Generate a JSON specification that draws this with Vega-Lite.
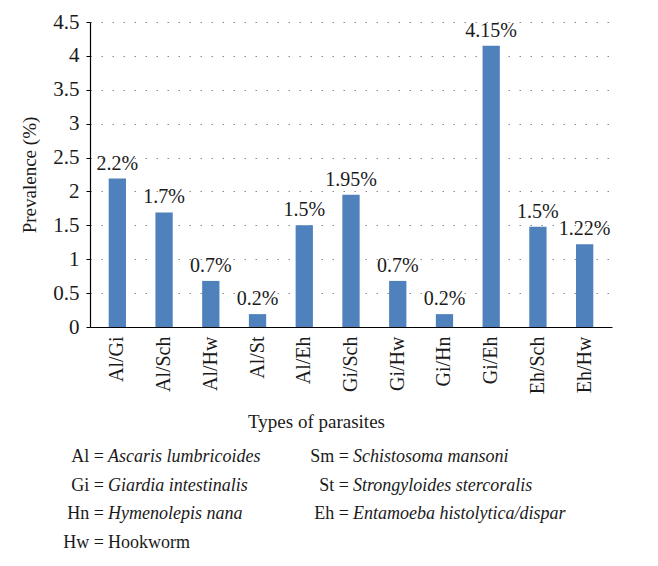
{
  "$schema": "https://vega.github.io/schema/vega-lite/v6.json",
  "width": 522,
  "height": 305,
  "padding": {"left": 20, "top": 11, "right": 5, "bottom": 5},
  "background": "white",
  "config": {
    "view": {"stroke": null},
    "font": "Liberation Serif",
    "text": {"font": "Liberation Serif"},
    "axis": {"labelFont": "Liberation Serif", "titleFont": "Liberation Serif", "labelColor": "#1a1a1a", "titleColor": "#1a1a1a", "titleFontWeight": "normal"}
  },
  "datasets": {
    "bars": [
      {"pair": "Al/Gi", "value": 2.19, "label": "2.2%"},
      {"pair": "Al/Sch", "value": 1.69, "label": "1.7%"},
      {"pair": "Al/Hw", "value": 0.68, "label": "0.7%"},
      {"pair": "Al/St", "value": 0.19, "label": "0.2%"},
      {"pair": "Al/Eh", "value": 1.5, "label": "1.5%"},
      {"pair": "Gi/Sch", "value": 1.95, "label": "1.95%"},
      {"pair": "Gi/Hw", "value": 0.68, "label": "0.7%"},
      {"pair": "Gi/Hn", "value": 0.19, "label": "0.2%"},
      {"pair": "Gi/Eh", "value": 4.15, "label": "4.15%"},
      {"pair": "Eh/Sch", "value": 1.48, "label": "1.5%"},
      {"pair": "Eh/Hw", "value": 1.22, "label": "1.22%"}
    ],
    "key": [
      {"row": 1, "col": "left", "abbr": "Al =", "name": "Ascaris lumbricoides"},
      {"row": 2, "col": "left", "abbr": "Gi =", "name": "Giardia intestinalis"},
      {"row": 3, "col": "left", "abbr": "Hn =", "name": "Hymenolepis nana"},
      {"row": 4, "col": "left", "abbr": "Hw =", "name": "Hookworm"},
      {"row": 1, "col": "right", "abbr": "Sm =", "name": "Schistosoma mansoni"},
      {"row": 2, "col": "right", "abbr": "St =", "name": "Strongyloides stercoralis"},
      {"row": 3, "col": "right", "abbr": "Eh =", "name": "Entamoeba histolytica/dispar"}
    ]
  },
  "layer": [
    {
      "data": {"name": "bars"},
      "encoding": {
        "x": {
          "field": "pair", "type": "nominal", "sort": null,
          "scale": {"paddingInner": 0.63, "paddingOuter": 0.4},
          "axis": {
            "title": "Types of parasites", "titleFontSize": 19, "titlePadding": 19, "titleX": 226,
            "labelAngle": -90, "labelFontSize": 20, "labelPadding": 9, "labelBaseline": "middle",
            "labelFont": "Liberation Serif", "titleFont": "Liberation Serif",
            "ticks": false, "domainColor": "#000000", "domainWidth": 1.2, "grid": false
          }
        },
        "y": {
          "field": "value", "type": "quantitative",
          "scale": {"domain": [0, 4.5], "nice": false},
          "axis": {
            "title": "Prevalence (%)", "titleFontSize": 19, "titlePadding": 13,
            "values": [0, 0.5, 1, 1.5, 2, 2.5, 3, 3.5, 4, 4.5], "format": "~g",
            "labelFontSize": 21, "labelPadding": 7,
            "labelFont": "Liberation Serif", "titleFont": "Liberation Serif",
            "tickSize": 4, "tickColor": "#000000",
            "domainColor": "#000000", "domainWidth": 1.2,
            "grid": true, "gridColor": "#8c8c8c", "gridDash": [1.5, 9.5], "gridWidth": 1.2
          }
        }
      },
      "layer": [
        {"mark": {"type": "bar", "color": "#4f81bd"}},
        {
          "mark": {"type": "text", "font": "Liberation Serif", "baseline": "bottom", "dy": -5, "fontSize": 20, "color": "#1a1a1a"},
          "encoding": {"text": {"field": "label"}}
        }
      ]
    },
    {
      "data": {"name": "key"},
      "encoding": {
        "x": {"field": "col", "type": "nominal", "scale": {"type": "point", "domain": ["left", "right"], "range": [14, 259], "padding": 0}, "axis": null},
        "y": {"field": "row", "type": "ordinal", "scale": {"type": "point", "domain": [1, 2, 3, 4], "range": [435, 521], "padding": 0}, "axis": null}
      },
      "layer": [
        {
          "mark": {"type": "text", "font": "Liberation Serif", "align": "right", "baseline": "middle", "fontSize": 18, "color": "#1a1a1a"},
          "encoding": {"text": {"field": "abbr"}}
        },
        {
          "transform": [{"filter": "datum.name !== 'Hookworm'"}],
          "mark": {"type": "text", "font": "Liberation Serif", "align": "left", "baseline": "middle", "dx": 4, "fontSize": 18, "fontStyle": "italic", "color": "#1a1a1a"},
          "encoding": {"text": {"field": "name"}}
        },
        {
          "transform": [{"filter": "datum.name === 'Hookworm'"}],
          "mark": {"type": "text", "font": "Liberation Serif", "align": "left", "baseline": "middle", "dx": 4, "fontSize": 18, "color": "#1a1a1a"},
          "encoding": {"text": {"field": "name"}}
        }
      ]
    }
  ],
  "resolve": {"scale": {"x": "independent", "y": "independent"}, "axis": {"x": "independent", "y": "independent"}}
}
